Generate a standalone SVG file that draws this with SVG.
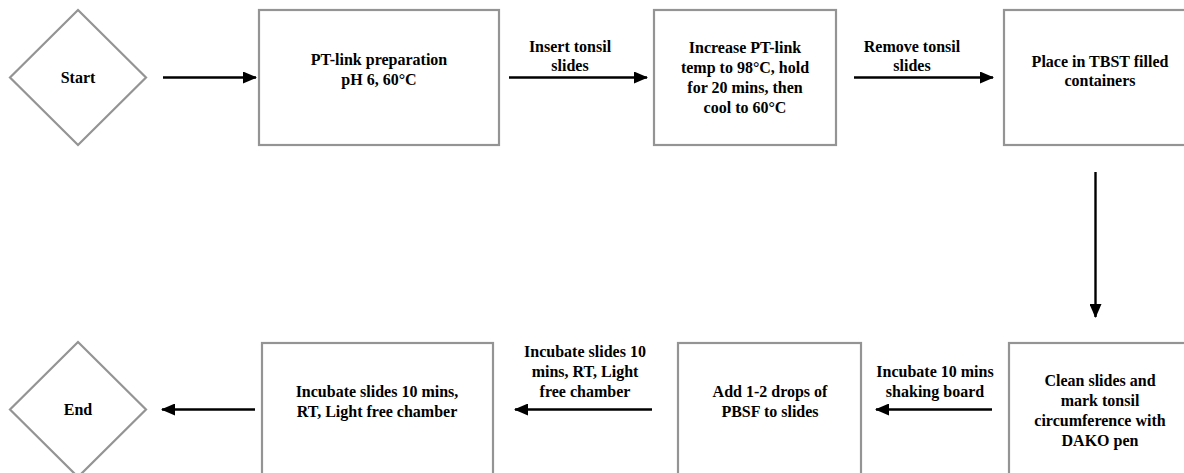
<svg xmlns="http://www.w3.org/2000/svg" width="1184" height="473" viewBox="0 0 1184 473">
<defs>
<style>
.shape{fill:#fff;stroke:#949494;stroke-width:2.2}
.t{font-family:"Liberation Serif","Times New Roman",serif;font-weight:bold;font-size:16px;fill:#000;text-anchor:middle}
.c{stroke:#000;stroke-width:2.4;fill:none;marker-end:url(#ah)}
</style>
<marker id="ah" viewBox="0 0 14 12" refX="13" refY="6" markerWidth="14" markerHeight="12" markerUnits="userSpaceOnUse" orient="auto">
<path d="M0,0 L14,6 L0,12 z" fill="#000"/>
</marker>
</defs>
<rect width="1184" height="473" fill="#fff"/>
<g id="connectors">
<line class="c" x1="163" y1="77.5" x2="256" y2="77.5"/>
<line class="c" x1="509" y1="77.5" x2="647" y2="77.5"/>
<line class="c" x1="854" y1="77.5" x2="993" y2="77.5"/>
<line class="c" x1="1095.5" y1="172" x2="1095.5" y2="317"/>
<line class="c" x1="992" y1="409.5" x2="876" y2="409.5"/>
<line class="c" x1="652" y1="409.5" x2="515" y2="409.5"/>
<line class="c" x1="255" y1="409.5" x2="162" y2="409.5"/>
<text class="t" x="570" y="52">Insert tonsil</text>
<text class="t" x="570" y="71">slides</text>
<text class="t" x="912" y="52">Remove tonsil</text>
<text class="t" x="912" y="71">slides</text>
<text class="t" x="935" y="377">Incubate 10 mins</text>
<text class="t" x="935" y="397">shaking board</text>
<text class="t" x="585" y="357">Incubate slides 10</text>
<text class="t" x="585" y="377">mins, RT, Light</text>
<text class="t" x="585" y="397">free chamber</text>
</g>
<g id="start">
<polygon class="shape" points="78,10 146,77.5 78,145 10,77.5"/>
<text class="t" x="78" y="83">Start</text>
</g>
<g id="ptlink">
<rect class="shape" x="259" y="10" width="240" height="135"/>
<text class="t" x="379" y="65">PT-link preparation</text>
<text class="t" x="379" y="85">pH 6, 60°C</text>
</g>
<g id="increase">
<rect class="shape" x="654" y="10" width="182" height="135"/>
<text class="t" x="745" y="53">Increase PT-link</text>
<text class="t" x="745" y="73">temp to 98°C, hold</text>
<text class="t" x="745" y="93">for 20 mins, then</text>
<text class="t" x="745" y="113">cool to 60°C</text>
</g>
<g id="tbst">
<rect class="shape" x="1004" y="10" width="190" height="135"/>
<text class="t" x="1100" y="67">Place in TBST filled</text>
<text class="t" x="1100" y="86">containers</text>
</g>
<g id="clean">
<rect class="shape" x="1009" y="343" width="190" height="150"/>
<text class="t" x="1100" y="386">Clean slides and</text>
<text class="t" x="1100" y="406">mark tonsil</text>
<text class="t" x="1100" y="426">circumference with</text>
<text class="t" x="1100" y="446">DAKO pen</text>
</g>
<g id="addpbsf">
<rect class="shape" x="678" y="343" width="183" height="150"/>
<text class="t" x="770" y="397">Add 1-2 drops of</text>
<text class="t" x="770" y="417">PBSF to slides</text>
</g>
<g id="incubate">
<rect class="shape" x="262" y="343" width="231" height="150"/>
<text class="t" x="377" y="397">Incubate slides 10 mins,</text>
<text class="t" x="377" y="417">RT, Light free chamber</text>
</g>
<g id="end">
<polygon class="shape" points="78,342 146,409.5 78,477 10,409.5"/>
<text class="t" x="78" y="415">End</text>
</g>
</svg>
